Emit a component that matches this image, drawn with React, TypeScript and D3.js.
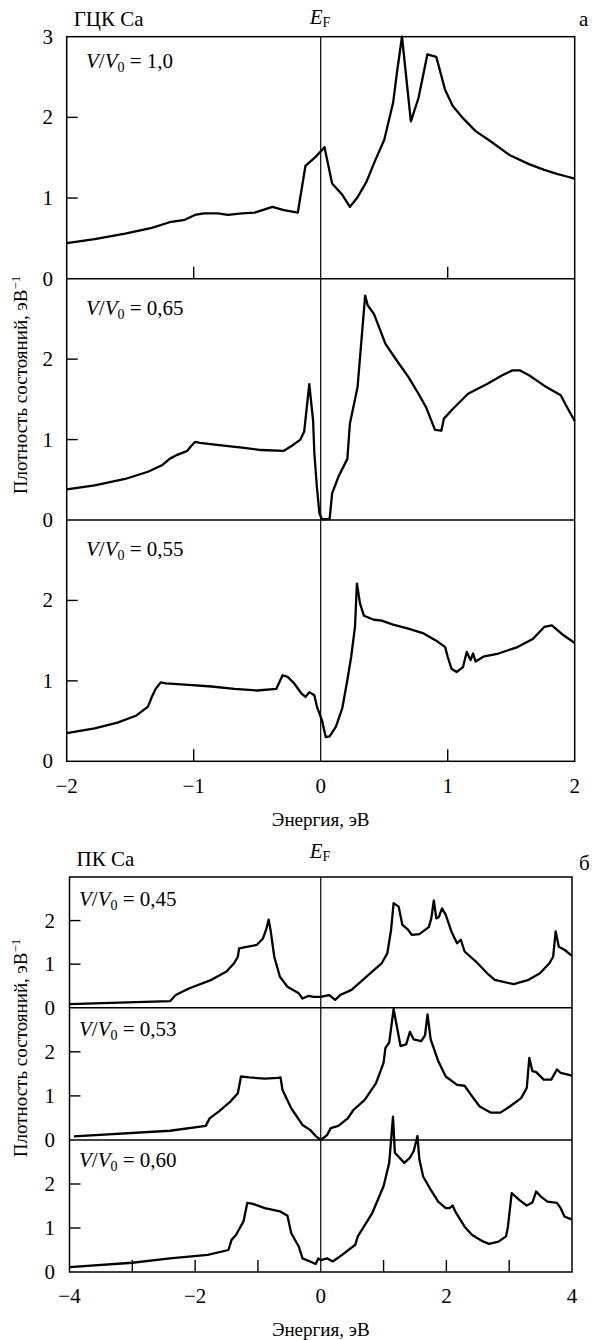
import React from "react";
import * as d3 from "d3";

// ---------- data: (energy eV, DOS eV^-1) ----------
const dosA1: [number, number][] = [
  [-2, 0.44], [-1.78, 0.49], [-1.54, 0.56], [-1.33, 0.63], [-1.19, 0.7], [-1.07, 0.73], [-0.99, 0.79],
  [-0.92, 0.81], [-0.81, 0.81], [-0.73, 0.79], [-0.62, 0.81], [-0.52, 0.82], [-0.38, 0.89], [-0.29, 0.85],
  [-0.18, 0.82], [-0.12, 1.4], [-0.04, 1.51], [0.03, 1.63], [0.09, 1.18], [0.17, 1.04], [0.23, 0.89],
  [0.29, 1.01], [0.36, 1.2], [0.43, 1.47], [0.5, 1.72], [0.57, 2.18], [0.6, 2.55], [0.64, 3.0], [0.71, 1.95],
  [0.77, 2.24], [0.84, 2.78], [0.91, 2.75], [0.98, 2.34], [1.04, 2.14], [1.12, 1.99], [1.22, 1.83],
  [1.34, 1.7], [1.49, 1.53], [1.64, 1.42], [1.76, 1.35], [1.86, 1.3], [1.93, 1.27], [2.0, 1.24],
];
const dosA2: [number, number][] = [
  [-2, 0.38], [-1.78, 0.43], [-1.54, 0.51], [-1.36, 0.6], [-1.25, 0.68], [-1.19, 0.76], [-1.13, 0.81],
  [-1.05, 0.86], [-1.02, 0.92], [-0.99, 0.97], [-0.95, 0.96], [-0.8, 0.93], [-0.62, 0.9], [-0.47, 0.87],
  [-0.29, 0.86], [-0.22, 0.93], [-0.16, 1.0], [-0.13, 1.1], [-0.09, 1.69], [-0.06, 1.24], [-0.05, 0.83],
  [-0.03, 0.41], [-0.01, 0.08], [0.01, 0.01], [0.07, 0.01], [0.09, 0.33], [0.14, 0.54], [0.21, 0.76],
  [0.23, 1.2], [0.29, 1.65], [0.35, 2.79], [0.37, 2.67], [0.42, 2.56], [0.51, 2.19], [0.6, 1.98],
  [0.69, 1.78], [0.77, 1.57], [0.83, 1.4], [0.9, 1.12], [0.95, 1.11], [0.97, 1.26], [1.04, 1.38],
  [1.16, 1.57], [1.31, 1.69], [1.43, 1.8], [1.51, 1.86], [1.57, 1.86], [1.64, 1.8], [1.76, 1.67],
  [1.89, 1.55], [1.93, 1.43], [2.0, 1.23],
];
const dosA3: [number, number][] = [
  [-2, 0.35], [-1.78, 0.41], [-1.6, 0.48], [-1.45, 0.57], [-1.36, 0.68], [-1.33, 0.8], [-1.3, 0.9],
  [-1.26, 0.98], [-1.22, 0.97], [-1.04, 0.95], [-0.86, 0.93], [-0.68, 0.9], [-0.5, 0.88], [-0.35, 0.9],
  [-0.3, 1.07], [-0.26, 1.05], [-0.21, 0.97], [-0.15, 0.84], [-0.12, 0.8], [-0.09, 0.86], [-0.05, 0.82],
  [-0.03, 0.68], [0.01, 0.51], [0.04, 0.3], [0.07, 0.31], [0.12, 0.43], [0.17, 0.66], [0.21, 1.01],
  [0.24, 1.3], [0.27, 1.67], [0.285, 2.21], [0.31, 1.96], [0.34, 1.81], [0.42, 1.76], [0.48, 1.75],
  [0.57, 1.7], [0.69, 1.65], [0.81, 1.59], [0.91, 1.5], [0.98, 1.42], [1.0, 1.3], [1.03, 1.15],
  [1.07, 1.11], [1.12, 1.17], [1.15, 1.36], [1.18, 1.26], [1.2, 1.34], [1.22, 1.24], [1.28, 1.3],
  [1.4, 1.34], [1.55, 1.42], [1.67, 1.52], [1.76, 1.67], [1.82, 1.69], [1.91, 1.57], [2.0, 1.47],
];
const dosB1: [number, number][] = [
  [-4, 0.08], [-2.4, 0.15], [-2.31, 0.29], [-2.1, 0.44], [-1.74, 0.64], [-1.5, 0.83], [-1.38, 1.02],
  [-1.32, 1.17], [-1.3, 1.36], [-1.2, 1.39], [-1.02, 1.44], [-0.92, 1.59], [-0.87, 1.79], [-0.83, 2.02],
  [-0.8, 1.79], [-0.74, 1.17], [-0.65, 0.71], [-0.53, 0.48], [-0.35, 0.33], [-0.29, 0.21], [-0.2, 0.27],
  [-0.11, 0.25], [0, 0.25], [0.13, 0.29], [0.17, 0.25], [0.23, 0.18], [0.31, 0.29], [0.49, 0.41],
  [0.67, 0.64], [0.85, 0.87], [0.97, 1.02], [1.06, 1.25], [1.12, 1.79], [1.16, 2.4], [1.24, 2.32],
  [1.3, 1.9], [1.39, 1.79], [1.45, 1.67], [1.57, 1.69], [1.72, 1.85], [1.76, 2.05], [1.8, 2.46],
  [1.84, 2.05], [1.88, 2.08], [1.93, 2.28], [1.99, 2.13], [2.08, 1.75], [2.17, 1.48], [2.23, 1.56],
  [2.29, 1.29], [2.47, 1.06], [2.65, 0.79], [2.77, 0.64], [3.07, 0.54], [3.31, 0.64], [3.49, 0.79],
  [3.64, 1.02], [3.7, 1.17], [3.74, 1.75], [3.79, 1.4], [3.88, 1.33], [4.0, 1.19],
];
const dosB2: [number, number][] = [
  [-3.93, 0.08], [-2.4, 0.21], [-1.83, 0.32], [-1.77, 0.49], [-1.62, 0.65], [-1.44, 0.87], [-1.32, 1.06],
  [-1.27, 1.44], [-1.14, 1.42], [-0.89, 1.39], [-0.68, 1.41], [-0.64, 1.42], [-0.61, 1.14], [-0.47, 0.72],
  [-0.29, 0.34], [-0.17, 0.23], [-0.08, 0.09], [0, 0.0], [0.1, 0.11], [0.16, 0.27], [0.28, 0.32],
  [0.43, 0.49], [0.52, 0.68], [0.7, 0.91], [0.88, 1.29], [1.0, 1.75], [1.03, 2.09], [1.09, 2.21],
  [1.16, 2.97], [1.21, 2.59], [1.27, 2.13], [1.36, 2.17], [1.42, 2.45], [1.48, 2.28], [1.6, 2.24],
  [1.66, 2.37], [1.7, 2.85], [1.75, 2.28], [1.87, 1.79], [1.99, 1.44], [2.17, 1.25], [2.29, 1.23],
  [2.41, 0.99], [2.53, 0.76], [2.71, 0.62], [2.86, 0.62], [3.01, 0.76], [3.19, 0.95], [3.28, 1.18],
  [3.32, 1.86], [3.37, 1.56], [3.43, 1.54], [3.55, 1.37], [3.67, 1.37], [3.76, 1.6], [3.82, 1.52],
  [4.0, 1.46],
];
const dosB3: [number, number][] = [
  [-4, 0.11], [-3.0, 0.21], [-2.4, 0.31], [-1.8, 0.39], [-1.47, 0.5], [-1.42, 0.73], [-1.35, 0.84],
  [-1.23, 1.15], [-1.17, 1.57], [-1.08, 1.55], [-0.89, 1.45], [-0.65, 1.38], [-0.53, 1.28], [-0.47, 0.88],
  [-0.35, 0.58], [-0.29, 0.31], [-0.17, 0.24], [-0.08, 0.18], [-0.04, 0.31], [0, 0.27], [0.1, 0.31],
  [0.19, 0.24], [0.34, 0.39], [0.55, 0.62], [0.59, 0.81], [0.82, 1.34], [1.0, 1.95], [1.09, 2.48],
  [1.15, 3.53], [1.18, 2.71], [1.33, 2.48], [1.42, 2.6], [1.48, 2.75], [1.54, 3.09], [1.57, 2.56],
  [1.63, 2.17], [1.75, 1.87], [1.87, 1.6], [1.99, 1.45], [2.05, 1.45], [2.1, 1.51], [2.14, 1.38],
  [2.29, 1.03], [2.41, 0.84], [2.59, 0.69], [2.68, 0.64], [2.83, 0.69], [2.95, 0.81], [2.98, 1.03],
  [3.04, 1.79], [3.16, 1.64], [3.28, 1.51], [3.37, 1.58], [3.43, 1.83], [3.5, 1.72], [3.61, 1.6],
  [3.76, 1.57], [3.82, 1.45], [3.88, 1.26], [4.0, 1.19],
];

const labelsA = ["1,0", "0,65", "0,55"];
const labelsB = ["0,45", "0,53", "0,60"];
const xTickLabelsA = [-2, -1, 0, 1, 2];
const xTickLabelsB = [-4, -2, 0, 2, 4];
const xMinorA = [-1, 1];
const xMinorB = [-3, -2, -1, 1, 2, 3];
const yTicks = [1, 2];

const FONT = "Times New Roman";
const FS = 21;

function fmt(v: number) {
  return v < 0 ? "\u2212" + Math.abs(v) : String(v);
}

type ChartProps = {
  x0: number; x1: number; bounds: number[]; domainX: [number, number];
  data: [number, number][][]; labels: string[]; labelDy: number[];
  xLabels: number[]; xMinor: number[]; minorPanels: number[];
  yLabelRight: number; tickBase: number; titleBase: number; yTitleCenter: number;
  name: string; letter: string; letterX: number; letterY: number; nameY: number; efY: number;
  vLabelX: number;
};

function T(props: any) {
  return <text fontFamily={FONT} style={{ fontFamily: FONT }} {...props} />;
}

function Chart(p: ChartProps) {
  const x = d3.scaleLinear().domain(p.domainX).range([p.x0, p.x1]);
  const top = p.bounds[0];
  const bottom = p.bounds[p.bounds.length - 1];
  const line = d3.line<[number, number]>();
  return (
    <g>
      {p.data.map((d, i) => {
        const y = d3.scaleLinear().domain([0, 3]).range([p.bounds[i + 1], p.bounds[i]]);
        const path = line.x((v) => x(v[0])).y((v) => y(v[1]))(d) || "";
        return (
          <g key={i}>
            <path d={path} fill="none" stroke="#000" strokeWidth={2.3} strokeLinejoin="round" />
            {yTicks.map((t) => (
              <line key={t} x1={p.x0} x2={p.x0 + 11} y1={y(t)} y2={y(t)} stroke="#000" strokeWidth={1.4} />
            ))}
            {[2, 1, 0].map((t) => (
              <T key={t} x={p.yLabelRight} y={y(t) + 7} textAnchor="end" fontSize={FS}>{t}</T>
            ))}
            {p.minorPanels.includes(i) &&
              p.xMinor.map((t) => (
                <line key={"m" + t} x1={x(t)} x2={x(t)} y1={p.bounds[i + 1]} y2={p.bounds[i + 1] - 12} stroke="#000" strokeWidth={1.4} />
              ))}
            <T x={p.vLabelX} y={p.bounds[i] + p.labelDy[i]} fontSize={FS}>
              <tspan fontStyle="italic">V</tspan>
              <tspan>/</tspan>
              <tspan fontStyle="italic">V</tspan>
              <tspan fontSize={14} dy={4}>0</tspan>
              <tspan dy={-4}>{" = " + p.labels[i]}</tspan>
            </T>
          </g>
        );
      })}
      <rect x={p.x0} y={top} width={p.x1 - p.x0} height={bottom - top} fill="none" stroke="#000" strokeWidth={1.5} />
      {p.bounds.slice(1, -1).map((b, i) => (
        <line key={i} x1={p.x0} x2={p.x1} y1={b} y2={b} stroke="#000" strokeWidth={1.5} />
      ))}
      <line x1={x(0)} x2={x(0)} y1={top} y2={bottom} stroke="#000" strokeWidth={1.2} />
      {p.xLabels.map((t) => (
        <T key={t} x={x(t)} y={p.tickBase} textAnchor="middle" fontSize={FS}>{fmt(t)}</T>
      ))}
      <T x={x(0)} y={p.titleBase} textAnchor="middle" fontSize={19}>Энергия, эВ</T>
      <T transform={`translate(27,${p.yTitleCenter}) rotate(-90)`} textAnchor="middle" fontSize={19}>
        Плотность состояний, эВ<tspan fontSize={13} dy={-7}>{"\u22121"}</tspan>
      </T>
      <T x={p.x0 + 7} y={p.nameY} fontSize={FS}>{p.name}</T>
      <T x={x(0) - 11} y={p.efY} fontSize={FS}>
        <tspan fontStyle="italic">E</tspan>
        <tspan fontSize={14} dy={3}>F</tspan>
      </T>
      <T x={p.letterX} y={p.letterY} fontSize={FS}>{p.letter}</T>
    </g>
  );
}

export default function App() {
  return (
    <svg width={592} height={1340} style={{ position: "absolute", left: 0, top: 0, background: "#fff", fontFamily: FONT }}>
      <style>{`text, tspan { font-family: "Times New Roman", "Liberation Serif", serif; }`}</style>
      <rect width={592} height={1340} fill="#fff" />
      <Chart
        x0={66.7} x1={574.7} bounds={[36.7, 278.7, 520, 761.3]} domainX={[-2, 2]}
        data={[dosA1, dosA2, dosA3]} labels={labelsA} labelDy={[31, 36, 36]}
        xLabels={xTickLabelsA} xMinor={xMinorA} minorPanels={[0, 2]}
        yLabelRight={53} tickBase={793} titleBase={826} yTitleCenter={385}
        name="ГЦК Ca" letter="а" letterX={579} letterY={26} nameY={26} efY={24} vLabelX={86}
      />
      <Chart
        x0={69.5} x1={572} bounds={[877, 1007.7, 1140, 1272]} domainX={[-4, 4]}
        data={[dosB1, dosB2, dosB3]} labels={labelsB} labelDy={[29, 28, 27]}
        xLabels={xTickLabelsB} xMinor={xMinorB} minorPanels={[2]}
        yLabelRight={55} tickBase={1303} titleBase={1336} yTitleCenter={1048}
        name="ПК Ca" letter="б" letterX={579} letterY={870} nameY={866} efY={858} vLabelX={79}
      />
      <T x={53} y={36.7 + 7} textAnchor="end" fontSize={FS}>3</T>
    </svg>
  );
}
